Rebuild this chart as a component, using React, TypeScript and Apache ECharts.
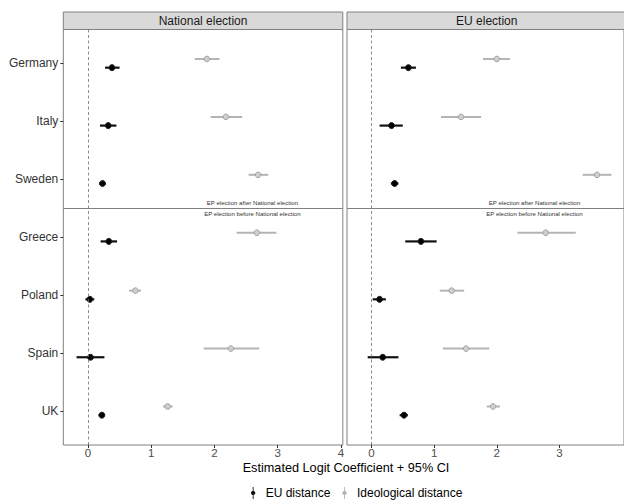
import React, { useEffect, useRef } from "react";
import * as echarts from "echarts";

const countries = ["Germany", "Italy", "Sweden", "Greece", "Poland", "Spain", "UK"];
const xTicksLeft = [0, 1, 2, 3, 4];
const xTicksRight = [0, 1, 2, 3];
const panels = ["National election", "EU election"];
const legendNames = ["EU distance", "Ideological distance"];
const annotations = ["EP election after National election", "EP election before National election"];

// National election panel
const natEuEst = [0.38, 0.32, 0.23, 0.33, 0.03, 0.04, 0.22];
const natEuLo = [0.27, 0.19, 0.18, 0.2, -0.04, -0.18, 0.17];
const natEuHi = [0.5, 0.45, 0.28, 0.46, 0.1, 0.26, 0.26];
const natIdEst = [1.88, 2.18, 2.69, 2.67, 0.75, 2.26, 1.26];
const natIdLo = [1.69, 1.94, 2.54, 2.35, 0.65, 1.83, 1.19];
const natIdHi = [2.08, 2.44, 2.85, 2.98, 0.84, 2.71, 1.34];

// EU election panel
const euEuEst = [0.59, 0.32, 0.37, 0.79, 0.13, 0.18, 0.52];
const euEuLo = [0.47, 0.13, 0.31, 0.54, 0.02, -0.06, 0.45];
const euEuHi = [0.71, 0.5, 0.43, 1.04, 0.23, 0.43, 0.58];
const euIdEst = [2.0, 1.43, 3.6, 2.78, 1.28, 1.51, 1.94];
const euIdLo = [1.78, 1.11, 3.37, 2.33, 1.09, 1.14, 1.84];
const euIdHi = [2.21, 1.75, 3.83, 3.26, 1.48, 1.88, 2.05];

const DODGE = 0.075;
const DIVIDER = 2.5;

const GRID_TOP = 29.5;
const GRID_H = 415.5;
const GRID_W = 279.5;
const GRID_LEFTS = [63.3, 347];
const FONT = "Liberation Sans, Arial, sans-serif";

function buildData(est: number[], lo: number[], hi: number[]) {
  return est.map((v, i) => [v, i, lo[i], hi[i]]);
}

function makeRender(offset: number, lineColor: string, lineW: number, fill: string, stroke: string, r: number) {
  return (params: any, api: any) => {
    const y = api.value(1) + offset;
    const p = api.coord([api.value(0), y]);
    const a = api.coord([api.value(2), y]);
    const b = api.coord([api.value(3), y]);
    return {
      type: "group",
      children: [
        {
          type: "line",
          shape: { x1: a[0], y1: a[1], x2: b[0], y2: b[1] },
          style: { stroke: lineColor, lineWidth: lineW },
        },
        {
          type: "circle",
          shape: { cx: p[0], cy: p[1], r },
          style: { fill, stroke, lineWidth: 1 },
        },
      ],
    };
  };
}

const BLACK = "#111111";
const GREY = "#b4b4b4";

export default function App() {
  const ref = useRef<HTMLDivElement>(null);
  useEffect(() => {
    document.body.style.margin = "0";
    if (!ref.current) return;
    const chart = echarts.init(ref.current, null, { renderer: "svg" });

    const sets = [
      { eu: buildData(natEuEst, natEuLo, natEuHi), id: buildData(natIdEst, natIdLo, natIdHi) },
      { eu: buildData(euEuEst, euEuLo, euEuHi), id: buildData(euIdEst, euIdLo, euIdHi) },
    ];

    const series: any[] = [];
    sets.forEach((s, gi) => {
      series.push({
        type: "line",
        xAxisIndex: gi,
        yAxisIndex: gi,
        data: [],
        silent: true,
        markLine: {
          silent: true,
          symbol: "none",
          label: { show: false },
          data: [
            { xAxis: 0, lineStyle: { color: "#6e6e6e", width: 0.8, type: [3, 2.5] } },
            { yAxis: DIVIDER, lineStyle: { color: "#808080", width: 1, type: "solid" } },
          ],
        },
      });
      series.push({
        name: legendNames[1],
        type: "custom",
        xAxisIndex: gi,
        yAxisIndex: gi,
        itemStyle: { color: GREY },
        encode: { x: [0, 2, 3], y: 1 },
        renderItem: makeRender(-DODGE, GREY, 2, "#cfcfcf", "#a0a0a0", 2.8),
        data: s.id,
      });
      series.push({
        name: legendNames[0],
        type: "custom",
        xAxisIndex: gi,
        yAxisIndex: gi,
        itemStyle: { color: BLACK },
        encode: { x: [0, 2, 3], y: 1 },
        renderItem: makeRender(DODGE, BLACK, 2.2, "#000", "#222", 3),
        data: s.eu,
      });
      series.push({
        type: "custom",
        xAxisIndex: gi,
        yAxisIndex: gi,
        silent: true,
        encode: { x: 0, y: 1 },
        renderItem: (params: any, api: any) => {
          const p = api.coord([api.value(0), api.value(1)]);
          return {
            type: "text",
            x: p[0],
            y: p[1],
            style: {
              text: annotations[params.dataIndex],
              fill: "#333",
              fontSize: 6.1,
              fontFamily: FONT,
              align: "center",
              verticalAlign: "middle",
            },
          };
        },
        data: [
          [2.6, 2.41],
          [2.6, 2.585],
        ],
      });
    });

    const tickSets = [xTicksLeft, xTicksRight];

    const option: any = {
      animation: false,
      backgroundColor: "#ffffff",
      textStyle: { fontFamily: FONT },
      grid: GRID_LEFTS.map((l) => ({
        left: l,
        top: GRID_TOP,
        width: GRID_W,
        height: GRID_H,
        show: true,
        borderColor: "#808080",
        borderWidth: 1,
        backgroundColor: "#ffffff",
        containLabel: false,
      })),
      xAxis: [0, 1].map((gi) => ({
        type: "value",
        gridIndex: gi,
        position: "bottom",
        min: -0.39,
        max: 4.03,
        splitLine: { show: false },
        axisLine: { show: false, onZero: false },
        axisTick: { show: true, length: 3, lineStyle: { color: "#333" }, customValues: tickSets[gi] },
        axisLabel: {
          customValues: tickSets[gi],
          fontSize: 11.5,
          color: "#4d4d4d",
          margin: 2,
          showMinLabel: true,
          showMaxLabel: true,
        },
      })),
      yAxis: [0, 1].map((gi) => ({
        type: "value",
        gridIndex: gi,
        position: "left",
        inverse: true,
        min: -0.584,
        max: 6.59,
        splitLine: { show: false },
        axisLine: { show: false, onZero: false },
        axisTick: {
          show: gi === 0,
          length: 3,
          lineStyle: { color: "#333" },
          customValues: countries.map((_, i) => i),
        },
        axisLabel: {
          show: gi === 0,
          customValues: countries.map((_, i) => i),
          formatter: (v: number) => countries[Math.round(v)] ?? "",
          fontSize: 12,
          color: "#333",
          margin: 5,
        },
      })),
      legend: {
        data: legendNames,
        left: 246,
        top: 482,
        itemWidth: 7,
        itemHeight: 12,
        itemGap: 12,
        icon: "path://M3,0L4,0L4,14L3,14Z M3.5,4.5A2.5,2.5 0 1 1 3.49,4.5Z",
        textStyle: { fontSize: 12, color: "#000", padding: [0, 0, 0, 4] },
        selectedMode: false,
      },
      graphic: [
        ...GRID_LEFTS.map((l, i) => ({
          type: "group",
          children: [
            {
              type: "rect",
              shape: { x: l, y: 12, width: GRID_W, height: GRID_TOP - 12 },
              style: { fill: "#d9d9d9", stroke: "#808080", lineWidth: 1 },
            },
            {
              type: "text",
              x: l + GRID_W / 2,
              y: 12 + (GRID_TOP - 12) / 2,
              style: {
                text: panels[i],
                fill: "#1a1a1a",
                fontSize: 12,
                fontFamily: FONT,
                align: "center",
                verticalAlign: "middle",
              },
            },
          ],
        })),
        {
          type: "text",
          x: 346,
          y: 468,
          style: {
            text: "Estimated Logit Coefficient + 95% CI",
            fill: "#000",
            fontSize: 12.7,
            fontFamily: FONT,
            align: "center",
            verticalAlign: "middle",
          },
        },
      ],
      series,
    };
    chart.setOption(option);
    return () => chart.dispose();
  }, []);
  return <div ref={ref} style={{ width: 624, height: 500 }} />;
}
